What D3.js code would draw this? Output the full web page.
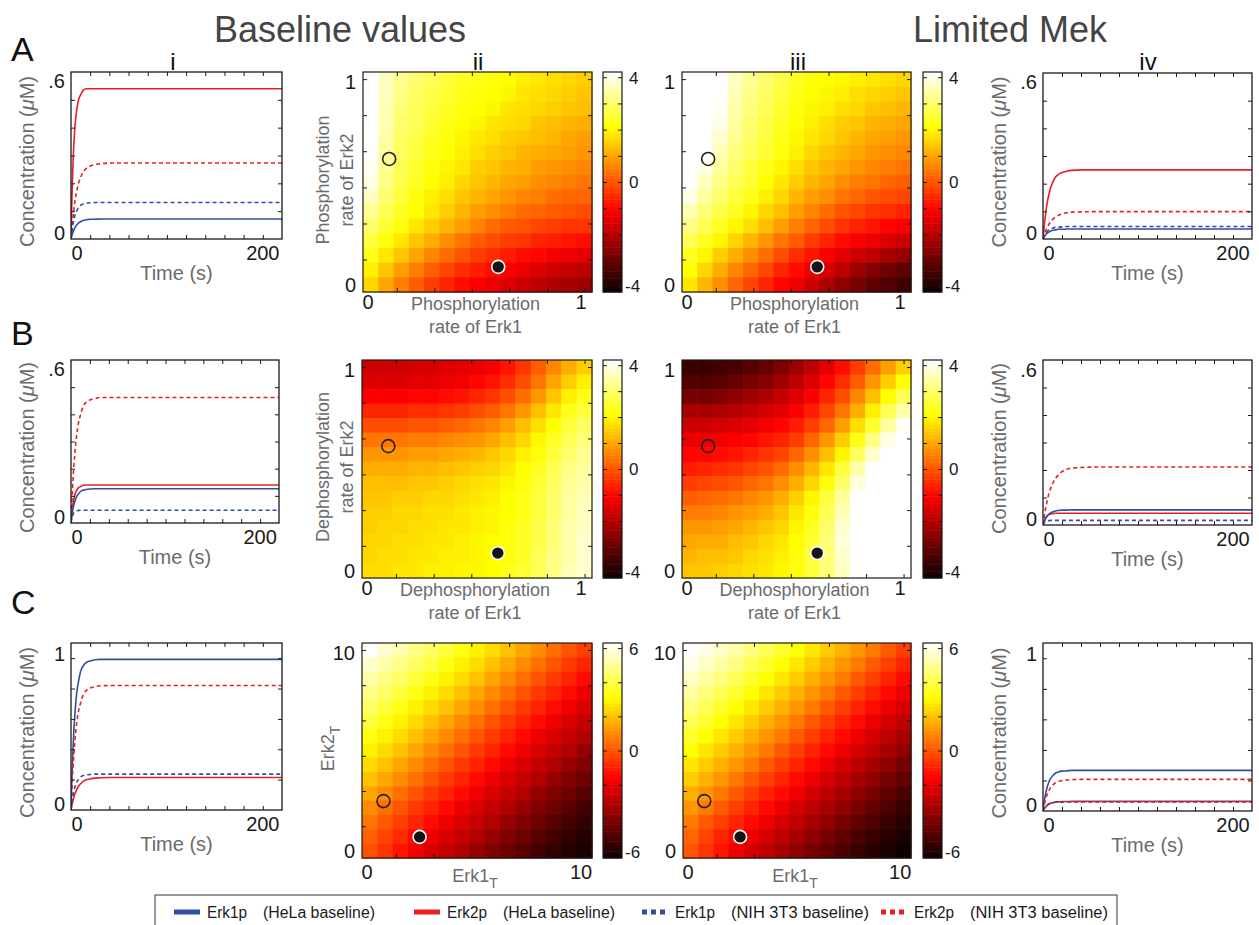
<!DOCTYPE html>
<html>
<head>
<meta charset="utf-8">
<script src="https://cdn.jsdelivr.net/npm/d3@7"></script>
<style>
  body { margin: 0; background: #fff; }
  svg { font-family: "Liberation Sans", Arial, Helvetica, sans-serif; }
</style>
</head>
<body>
<svg id="fig" width="1259" height="925"></svg>
<script>
// ---- data ----
const times = [0, 1, 2, 3, 4, 6, 8, 10, 13, 16, 20, 25, 30, 40, 60, 220];

// each panel: [Erk1p HeLa, Erk2p HeLa, Erk1p NIH 3T3, Erk2p NIH 3T3]
const lineAi = [
  [0, .013, .024, .032, .040, .050, .058, .062, .067, .069, .071, .071, .072, .072, .072, .072],
  [0, .151, .265, .340, .400, .464, .502, .518, .535, .540, .540, .540, .540, .540, .540, .540],
  [0, .029, .051, .069, .083, .102, .113, .121, .126, .128, .130, .131, .131, .131, .131, .131],
  [0, .041, .076, .106, .134, .172, .202, .221, .243, .254, .262, .268, .270, .273, .273, .273]
];
const lineAiv = [
  [0, .006, .012, .016, .020, .025, .029, .031, .033, .035, .035, .036, .036, .036, .036, .036],
  [0, .038, .070, .098, .123, .158, .185, .203, .223, .233, .240, .245, .248, .250, .250, .250],
  [0, .008, .015, .020, .025, .032, .036, .039, .042, .043, .044, .045, .045, .045, .045, .045],
  [0, .012, .022, .031, .039, .052, .062, .070, .079, .085, .091, .095, .097, .098, .099, .099]
];
const lineBi = [
  [0, .028, .049, .067, .079, .098, .108, .116, .121, .123, .125, .126, .126, .126, .126, .126],
  [0, .039, .069, .088, .104, .120, .130, .134, .139, .140, .140, .140, .140, .140, .140, .140],
  [0, .018, .030, .037, .040, .045, .046, .047, .047, .047, .047, .047, .047, .047, .047, .047],
  [0, .083, .152, .208, .254, .323, .370, .397, .430, .444, .453, .457, .462, .462, .462, .462]
];
const lineBiv = [
  [0, .010, .018, .025, .030, .039, .044, .047, .051, .053, .054, .054, .055, .055, .055, .055],
  [0, .012, .021, .027, .032, .037, .040, .041, .043, .043, .043, .043, .043, .043, .043, .043],
  [0, .007, .011, .013, .015, .016, .017, .017, .017, .017, .017, .017, .017, .017, .017, .017],
  [0, .025, .046, .065, .082, .112, .133, .150, .169, .181, .194, .203, .207, .209, .211, .211]
];
const lineCi = [
  [0, .218, .387, .526, .625, .774, .853, .913, .952, .972, .982, .990, .992, .992, .992, .992],
  [0, .032, .060, .083, .105, .135, .158, .173, .190, .199, .205, .210, .212, .214, .214, .214],
  [0, .052, .092, .125, .149, .184, .203, .217, .227, .231, .234, .236, .236, .236, .236, .236],
  [0, .148, .271, .369, .451, .574, .656, .705, .763, .787, .804, .812, .818, .820, .820, .820]
];
const lineCiv = [
  [0, .048, .088, .120, .146, .186, .213, .229, .247, .255, .261, .263, .266, .266, .266, .266],
  [0, .011, .021, .028, .035, .044, .050, .054, .059, .060, .062, .062, .063, .063, .063, .063],
  [0, .013, .023, .031, .037, .046, .051, .054, .057, .058, .058, .059, .059, .059, .059, .059],
  [0, .031, .058, .081, .101, .130, .153, .168, .184, .193, .199, .203, .205, .207, .207, .207]
];

// heat maps (log fold change), rows from top (high Erk2 value) to bottom, columns left to right
const heatAii = [
  [4.2, 3.7, 3.3, 3.0, 2.8, 2.6, 2.4, 2.3, 2.2, 2.1, 1.9, 1.8, 1.7, 1.6, 1.5],
  [4.2, 3.7, 3.2, 2.9, 2.7, 2.5, 2.3, 2.2, 2.1, 2.0, 1.8, 1.7, 1.6, 1.5, 1.4],
  [4.2, 3.6, 3.1, 2.8, 2.6, 2.4, 2.2, 2.1, 2.0, 1.8, 1.7, 1.6, 1.5, 1.4, 1.3],
  [4.2, 3.6, 3.0, 2.8, 2.5, 2.3, 2.1, 2.0, 1.8, 1.7, 1.6, 1.4, 1.3, 1.2, 1.1],
  [4.2, 3.5, 2.9, 2.7, 2.4, 2.2, 2.0, 1.8, 1.7, 1.5, 1.4, 1.3, 1.2, 1.0, 0.9],
  [4.2, 3.4, 2.9, 2.6, 2.3, 2.1, 1.9, 1.7, 1.5, 1.4, 1.2, 1.1, 1.0, 0.9, 0.8],
  [4.1, 3.3, 2.8, 2.5, 2.2, 2.0, 1.8, 1.5, 1.4, 1.2, 1.1, 0.9, 0.8, 0.7, 0.6],
  [4.0, 3.2, 2.7, 2.4, 2.1, 1.9, 1.6, 1.4, 1.2, 1.0, 0.9, 0.7, 0.6, 0.5, 0.4],
  [3.7, 3.0, 2.6, 2.2, 1.9, 1.7, 1.4, 1.2, 1.0, 0.8, 0.6, 0.5, 0.3, 0.2, 0.2],
  [3.3, 2.8, 2.4, 2.1, 1.8, 1.5, 1.2, 0.9, 0.7, 0.5, 0.3, 0.2, 0.1, 0.0, -0.1],
  [3.0, 2.5, 2.2, 1.8, 1.5, 1.2, 0.9, 0.6, 0.3, 0.1, 0.0, -0.2, -0.3, -0.4, -0.4],
  [2.6, 2.2, 1.8, 1.4, 1.1, 0.7, 0.4, 0.1, -0.1, -0.3, -0.4, -0.6, -0.7, -0.8, -0.9],
  [2.3, 1.8, 1.4, 1.0, 0.6, 0.3, 0.0, -0.3, -0.5, -0.7, -0.9, -1.0, -1.2, -1.3, -1.4],
  [1.9, 1.4, 0.9, 0.5, 0.1, -0.2, -0.5, -0.7, -0.9, -1.1, -1.3, -1.5, -1.7, -1.8, -1.9],
  [1.6, 1.0, 0.5, 0.1, -0.3, -0.6, -0.9, -1.1, -1.3, -1.5, -1.7, -1.9, -2.1, -2.2, -2.3]
];
const heatAiii = [
  [4.2, 4.2, 4.2, 3.7, 3.3, 3.0, 2.7, 2.4, 2.2, 2.1, 2.0, 1.9, 1.8, 1.7, 1.6],
  [4.2, 4.2, 4.2, 3.6, 3.2, 2.9, 2.6, 2.3, 2.1, 2.0, 1.9, 1.7, 1.6, 1.5, 1.4],
  [4.2, 4.2, 4.1, 3.5, 3.1, 2.8, 2.5, 2.2, 2.0, 1.9, 1.7, 1.6, 1.4, 1.3, 1.2],
  [4.2, 4.2, 4.0, 3.4, 3.0, 2.7, 2.4, 2.1, 1.9, 1.7, 1.5, 1.4, 1.2, 1.1, 1.0],
  [4.2, 4.2, 3.8, 3.3, 2.9, 2.6, 2.3, 2.0, 1.8, 1.6, 1.4, 1.2, 1.0, 0.9, 0.8],
  [4.2, 4.2, 3.6, 3.1, 2.8, 2.5, 2.2, 1.9, 1.6, 1.4, 1.2, 1.0, 0.8, 0.7, 0.6],
  [4.2, 4.0, 3.4, 3.0, 2.6, 2.3, 2.0, 1.7, 1.4, 1.2, 1.0, 0.8, 0.6, 0.5, 0.4],
  [4.2, 3.7, 3.2, 2.8, 2.5, 2.1, 1.8, 1.5, 1.2, 1.0, 0.7, 0.5, 0.4, 0.2, 0.1],
  [4.0, 3.4, 3.0, 2.6, 2.3, 1.9, 1.6, 1.2, 0.9, 0.7, 0.4, 0.2, 0.0, -0.1, -0.2],
  [3.6, 3.1, 2.7, 2.4, 2.0, 1.6, 1.3, 0.9, 0.6, 0.3, 0.0, -0.2, -0.4, -0.5, -0.6],
  [3.2, 2.8, 2.4, 2.0, 1.7, 1.3, 0.9, 0.5, 0.2, -0.1, -0.4, -0.6, -0.8, -1.0, -1.1],
  [2.8, 2.4, 2.0, 1.6, 1.2, 0.8, 0.4, 0.1, -0.3, -0.6, -0.9, -1.1, -1.3, -1.5, -1.7],
  [2.4, 2.0, 1.5, 1.1, 0.7, 0.3, -0.1, -0.5, -0.8, -1.1, -1.4, -1.7, -1.9, -2.2, -2.4],
  [2.1, 1.6, 1.1, 0.6, 0.2, -0.2, -0.6, -0.9, -1.3, -1.6, -1.9, -2.3, -2.6, -2.9, -3.1],
  [1.8, 1.2, 0.7, 0.2, -0.2, -0.6, -1.0, -1.3, -1.7, -2.1, -2.5, -2.8, -3.1, -3.3, -3.5]
];
const heatBii = [
  [-1.7, -1.7, -1.7, -1.6, -1.6, -1.5, -1.4, -1.3, -1.1, -0.8, -0.4, 0.1, 0.6, 1.1, 1.5],
  [-1.5, -1.5, -1.5, -1.4, -1.4, -1.3, -1.2, -1.0, -0.8, -0.5, -0.1, 0.4, 1.0, 1.5, 1.9],
  [-1.1, -1.1, -1.1, -1.0, -1.0, -0.9, -0.8, -0.6, -0.4, -0.1, 0.3, 0.8, 1.4, 1.9, 2.3],
  [-0.6, -0.6, -0.6, -0.5, -0.5, -0.4, -0.3, -0.1, 0.1, 0.4, 0.8, 1.3, 1.8, 2.3, 2.6],
  [-0.1, -0.1, -0.1, 0.0, 0.0, 0.1, 0.2, 0.4, 0.6, 0.9, 1.3, 1.7, 2.1, 2.6, 2.9],
  [0.4, 0.4, 0.4, 0.5, 0.5, 0.6, 0.7, 0.8, 1.0, 1.3, 1.6, 2.0, 2.4, 2.8, 3.1],
  [0.8, 0.8, 0.8, 0.9, 0.9, 1.0, 1.1, 1.2, 1.4, 1.6, 1.9, 2.2, 2.6, 3.0, 3.3],
  [1.1, 1.1, 1.1, 1.2, 1.2, 1.3, 1.4, 1.5, 1.6, 1.8, 2.1, 2.4, 2.8, 3.2, 3.4],
  [1.3, 1.3, 1.3, 1.4, 1.4, 1.5, 1.6, 1.7, 1.8, 2.0, 2.2, 2.5, 2.9, 3.3, 3.5],
  [1.4, 1.4, 1.5, 1.5, 1.6, 1.6, 1.7, 1.8, 1.9, 2.1, 2.3, 2.6, 3.0, 3.4, 3.6],
  [1.5, 1.5, 1.6, 1.6, 1.7, 1.7, 1.8, 1.9, 2.0, 2.1, 2.3, 2.6, 3.0, 3.4, 3.7],
  [1.5, 1.6, 1.6, 1.7, 1.7, 1.8, 1.8, 1.9, 2.0, 2.2, 2.4, 2.7, 3.1, 3.5, 3.7],
  [1.6, 1.6, 1.7, 1.7, 1.8, 1.8, 1.9, 2.0, 2.1, 2.2, 2.4, 2.7, 3.1, 3.5, 3.8],
  [1.6, 1.7, 1.7, 1.8, 1.8, 1.9, 1.9, 2.0, 2.1, 2.2, 2.4, 2.8, 3.2, 3.5, 3.8],
  [1.7, 1.7, 1.8, 1.8, 1.9, 1.9, 2.0, 2.0, 2.1, 2.3, 2.5, 2.8, 3.2, 3.6, 3.8]
];
const heatBiii = [
  [-3.6, -3.6, -3.5, -3.4, -3.2, -3.0, -2.7, -2.3, -1.9, -1.4, -0.9, -0.3, 0.3, 0.9, 1.5],
  [-3.3, -3.3, -3.2, -3.0, -2.8, -2.6, -2.3, -1.9, -1.5, -1.0, -0.5, 0.1, 0.8, 1.5, 2.1],
  [-2.8, -2.8, -2.7, -2.5, -2.3, -2.1, -1.8, -1.5, -1.1, -0.6, -0.1, 0.6, 1.3, 2.1, 2.8],
  [-2.2, -2.2, -2.1, -2.0, -1.8, -1.6, -1.4, -1.1, -0.7, -0.2, 0.4, 1.1, 1.9, 2.8, 3.5],
  [-1.7, -1.7, -1.6, -1.5, -1.4, -1.2, -1.0, -0.7, -0.3, 0.2, 0.9, 1.7, 2.5, 3.4, 4.1],
  [-1.3, -1.3, -1.2, -1.1, -1.0, -0.8, -0.6, -0.3, 0.2, 0.8, 1.5, 2.3, 3.2, 4.0, 4.2],
  [-1.0, -1.0, -0.9, -0.8, -0.6, -0.4, -0.2, 0.2, 0.7, 1.3, 2.0, 2.9, 3.8, 4.2, 4.2],
  [-0.7, -0.6, -0.5, -0.4, -0.2, 0.0, 0.3, 0.7, 1.2, 1.8, 2.6, 3.5, 4.2, 4.2, 4.2],
  [-0.3, -0.2, -0.1, 0.0, 0.2, 0.4, 0.7, 1.1, 1.6, 2.2, 3.0, 3.9, 4.2, 4.2, 4.2],
  [0.1, 0.2, 0.3, 0.4, 0.6, 0.8, 1.1, 1.5, 2.0, 2.6, 3.4, 4.2, 4.2, 4.2, 4.2],
  [0.5, 0.5, 0.6, 0.8, 0.9, 1.1, 1.4, 1.8, 2.2, 2.8, 3.6, 4.2, 4.2, 4.2, 4.2],
  [0.8, 0.8, 0.9, 1.0, 1.2, 1.4, 1.6, 2.0, 2.4, 3.0, 3.8, 4.2, 4.2, 4.2, 4.2],
  [1.0, 1.1, 1.1, 1.3, 1.4, 1.6, 1.8, 2.1, 2.5, 3.1, 3.9, 4.2, 4.2, 4.2, 4.2],
  [1.2, 1.3, 1.3, 1.4, 1.6, 1.7, 1.9, 2.2, 2.6, 3.1, 3.8, 4.2, 4.2, 4.2, 4.2],
  [1.4, 1.4, 1.5, 1.6, 1.7, 1.8, 2.0, 2.2, 2.6, 3.1, 3.7, 4.2, 4.2, 4.2, 4.2]
];
const heatCii = [
  [6.3, 5.7, 5.3, 4.8, 4.4, 3.9, 3.4, 2.9, 2.5, 2.0, 1.5, 1.0, 0.5, 0.0, -0.4],
  [5.7, 5.3, 4.8, 4.4, 3.9, 3.4, 2.9, 2.5, 2.0, 1.5, 1.0, 0.5, 0.0, -0.5, -0.9],
  [5.3, 4.8, 4.4, 3.9, 3.4, 2.9, 2.5, 2.0, 1.5, 1.0, 0.5, 0.0, -0.5, -0.9, -1.4],
  [4.8, 4.4, 3.9, 3.4, 2.9, 2.5, 2.0, 1.5, 1.0, 0.5, 0.0, -0.5, -0.9, -1.4, -1.9],
  [4.4, 3.9, 3.4, 2.9, 2.5, 2.0, 1.5, 1.0, 0.5, 0.0, -0.5, -0.9, -1.4, -1.9, -2.3],
  [3.9, 3.4, 2.9, 2.5, 2.0, 1.5, 1.0, 0.5, 0.0, -0.5, -0.9, -1.4, -1.9, -2.3, -2.7],
  [3.4, 2.9, 2.5, 2.0, 1.5, 1.0, 0.5, 0.0, -0.5, -0.9, -1.4, -1.9, -2.3, -2.7, -3.1],
  [2.9, 2.5, 2.0, 1.5, 1.0, 0.5, 0.0, -0.5, -0.9, -1.4, -1.9, -2.3, -2.7, -3.1, -3.6],
  [2.5, 2.0, 1.5, 1.0, 0.5, 0.0, -0.5, -0.9, -1.4, -1.9, -2.3, -2.7, -3.1, -3.6, -4.0],
  [2.0, 1.5, 1.0, 0.5, 0.0, -0.5, -0.9, -1.4, -1.9, -2.3, -2.7, -3.1, -3.6, -4.0, -4.4],
  [1.5, 1.0, 0.5, 0.0, -0.5, -0.9, -1.4, -1.9, -2.3, -2.7, -3.1, -3.6, -4.0, -4.4, -4.8],
  [1.0, 0.5, 0.0, -0.5, -0.9, -1.4, -1.9, -2.3, -2.7, -3.1, -3.6, -4.0, -4.4, -4.8, -5.2],
  [0.6, 0.1, -0.4, -0.9, -1.4, -1.9, -2.3, -2.7, -3.1, -3.6, -4.0, -4.4, -4.8, -5.2, -5.5],
  [0.2, -0.3, -0.8, -1.4, -1.9, -2.3, -2.7, -3.1, -3.6, -4.0, -4.4, -4.8, -5.2, -5.5, -5.8],
  [-0.1, -0.6, -1.2, -1.8, -2.3, -2.7, -3.1, -3.6, -4.0, -4.4, -4.8, -5.2, -5.5, -5.8, -6.0]
];
const heatCiii = [
  [6.3, 6.0, 5.6, 5.2, 4.7, 4.2, 3.7, 3.2, 2.7, 2.2, 1.7, 1.2, 0.7, 0.1, -0.4],
  [6.0, 5.6, 5.2, 4.7, 4.2, 3.7, 3.2, 2.7, 2.2, 1.7, 1.2, 0.7, 0.1, -0.4, -0.9],
  [5.6, 5.2, 4.7, 4.2, 3.7, 3.2, 2.7, 2.2, 1.7, 1.2, 0.7, 0.1, -0.4, -0.9, -1.4],
  [5.2, 4.7, 4.2, 3.7, 3.2, 2.7, 2.2, 1.7, 1.2, 0.7, 0.1, -0.4, -0.9, -1.4, -1.9],
  [4.7, 4.2, 3.7, 3.2, 2.7, 2.2, 1.7, 1.2, 0.7, 0.1, -0.4, -0.9, -1.4, -1.9, -2.4],
  [4.2, 3.7, 3.2, 2.7, 2.2, 1.7, 1.2, 0.7, 0.1, -0.4, -0.9, -1.4, -1.9, -2.4, -2.8],
  [3.7, 3.2, 2.7, 2.2, 1.7, 1.2, 0.7, 0.1, -0.4, -0.9, -1.4, -1.9, -2.4, -2.8, -3.3],
  [3.2, 2.7, 2.2, 1.7, 1.2, 0.7, 0.1, -0.4, -0.9, -1.4, -1.9, -2.4, -2.8, -3.3, -3.7],
  [2.7, 2.2, 1.7, 1.2, 0.7, 0.1, -0.4, -0.9, -1.4, -1.9, -2.4, -2.8, -3.3, -3.7, -4.2],
  [2.2, 1.7, 1.2, 0.7, 0.1, -0.4, -0.9, -1.4, -1.9, -2.4, -2.8, -3.3, -3.7, -4.2, -4.6],
  [1.7, 1.2, 0.7, 0.1, -0.4, -0.9, -1.4, -1.9, -2.4, -2.8, -3.3, -3.7, -4.2, -4.6, -5.0],
  [1.2, 0.7, 0.1, -0.4, -0.9, -1.4, -1.9, -2.4, -2.8, -3.3, -3.7, -4.2, -4.6, -5.0, -5.4],
  [0.7, 0.1, -0.4, -0.9, -1.4, -1.9, -2.4, -2.8, -3.3, -3.7, -4.2, -4.6, -5.0, -5.4, -5.7],
  [0.3, -0.3, -0.9, -1.4, -1.9, -2.4, -2.8, -3.3, -3.7, -4.2, -4.6, -5.0, -5.4, -5.7, -6.0],
  [0.0, -0.6, -1.2, -1.9, -2.4, -2.8, -3.3, -3.7, -4.2, -4.6, -5.0, -5.4, -5.7, -6.0, -6.2]
];

// parameter values of the two cell lines (open = NIH 3T3, filled = HeLa)
const markersAB = { open: [0.12, 0.635], filled: [0.62, 0.12] };
const markersC = { open: [0.98, 2.78], filled: [2.63, 1.03] };

const legendNames = ["Erk1p", "Erk2p", "Erk1p", "Erk2p"];
const legendNotes = ["(HeLa baseline)", "(HeLa baseline)", "(NIH 3T3 baseline)", "(NIH 3T3 baseline)"];

// ---- drawing ----
const svg = d3.select("#fig");
const BLUE = "#2f4ea2", RED = "#ec1c24", INK = "#1a1a1a", GRAY = "#6b6b6b";
const styles = [
  { color: BLUE, dash: null }, { color: RED, dash: null },
  { color: BLUE, dash: "4,3" }, { color: RED, dash: "4,3" }
];
// matlab "hot"
const hot = d3.scaleLinear()
  .domain([0, 0.375, 0.75, 1])
  .range(["#0a0000", "#ff0000", "#ffff00", "#ffffff"])
  .clamp(true);

function innerTicks(g, scale, orient, pos, values) {
  const axis = { bottom: d3.axisBottom, top: d3.axisTop, left: d3.axisLeft, right: d3.axisRight }[orient](scale)
    .tickValues(values).tickSize(-4).tickFormat("");
  const t = (orient === "bottom" || orient === "top") ? `translate(0,${pos})` : `translate(${pos},0)`;
  const a = g.append("g").attr("transform", t).call(axis);
  a.select(".domain").remove();
  a.selectAll("line").attr("stroke", INK).attr("stroke-width", 1);
}

let clipId = 0;
function linePanel(p) {
  const x = d3.scaleLinear().domain([0, 220]).range([p.left, p.right]);
  const y = d3.scaleLinear().domain([0, p.ymax]).range([p.bottom, p.top]);
  const g = svg.append("g");
  const id = "clip" + (clipId++);
  g.append("clipPath").attr("id", id).append("rect")
    .attr("x", p.left).attr("y", p.top).attr("width", p.right - p.left).attr("height", p.bottom - p.top);

  const line = d3.line().x((v, i) => x(times[i])).y(v => y(v)).curve(d3.curveMonotoneX);
  const order = [1, 0, 3, 2];
  g.append("g").attr("clip-path", `url(#${id})`).selectAll("path")
    .data(order).join("path")
    .attr("d", k => line(p.series[k]))
    .attr("fill", "none")
    .attr("stroke", k => styles[k].color)
    .attr("stroke-width", 1.6)
    .attr("stroke-dasharray", k => styles[k].dash);

  const xt = d3.range(20, 220, 20);
  const yt = d3.range(p.ystep, p.ymax - 1e-6, p.ystep);
  innerTicks(g, x, "bottom", p.bottom, xt);
  innerTicks(g, x, "top", p.top, xt);
  innerTicks(g, y, "left", p.left, yt);
  innerTicks(g, y, "right", p.right, yt);
  g.append("rect").attr("x", p.left).attr("y", p.top)
    .attr("width", p.right - p.left).attr("height", p.bottom - p.top)
    .attr("fill", "none").attr("stroke", INK).attr("stroke-width", 1.3);

  // tick labels
  g.append("text").attr("x", x(0) + 6).attr("y", p.bottom + 21).attr("text-anchor", "middle")
    .attr("font-size", 20).attr("fill", INK).text("0");
  g.append("text").attr("x", x(200)).attr("y", p.bottom + 21).attr("text-anchor", "middle")
    .attr("font-size", 20).attr("fill", INK).text("200");
  g.append("text").attr("x", p.left - 6).attr("y", p.topLabelY).attr("text-anchor", "end")
    .attr("font-size", 20).attr("fill", INK).text(p.topLabel);
  g.append("text").attr("x", p.left - 6).attr("y", p.bottom + 1).attr("text-anchor", "end")
    .attr("font-size", 20).attr("fill", INK).text("0");

  g.append("text").attr("x", (p.left + p.right) / 2).attr("y", p.bottom + 41)
    .attr("text-anchor", "middle").attr("font-size", 20).attr("fill", GRAY).text("Time (s)");
  const cy = (p.top + p.bottom) / 2 + 6;
  const yl = g.append("text").attr("transform", `translate(${p.left - 37},${cy}) rotate(-90)`)
    .attr("text-anchor", "middle").attr("font-size", 20).attr("fill", GRAY);
  yl.append("tspan").text("Concentration (");
  yl.append("tspan").attr("font-style", "italic").text("\u03bc");
  yl.append("tspan").text("M)");
}

function heatPanel(p) {
  const n = p.grid.length;
  const cell = p.extent / n;
  const x = d3.scaleLinear().domain([0, p.extent]).range([p.left, p.right]);
  const y = d3.scaleLinear().domain([0, p.extent]).range([p.bottom, p.top]);
  const color = v => hot((v - p.lo) / (p.hi - p.lo));
  const g = svg.append("g");
  const cells = p.grid.flatMap((row, r) => row.map((v, c) => ({ r, c, v })));
  g.selectAll("rect.cell").data(cells).join("rect").attr("class", "cell")
    .attr("x", d => x(d.c * cell))
    .attr("y", d => y((n - d.r) * cell))
    .attr("width", x(cell) - x(0) + 0.6)
    .attr("height", y(0) - y(cell) + 0.6)
    .attr("fill", d => color(d.v));

  innerTicks(g, x, "bottom", p.bottom, p.ticks);
  innerTicks(g, x, "top", p.top, p.ticks);
  innerTicks(g, y, "left", p.left, p.ticks);
  innerTicks(g, y, "right", p.right, p.ticks);
  g.append("rect").attr("x", p.left).attr("y", p.top)
    .attr("width", p.right - p.left).attr("height", p.bottom - p.top)
    .attr("fill", "none").attr("stroke", INK).attr("stroke-width", 1.2);

  // markers
  g.append("circle").attr("cx", x(p.markers.open[0])).attr("cy", y(p.markers.open[1])).attr("r", 6.5)
    .attr("fill", "none").attr("stroke", "#222").attr("stroke-width", 1.6);
  g.append("circle").attr("cx", x(p.markers.filled[0])).attr("cy", y(p.markers.filled[1])).attr("r", 6.5)
    .attr("fill", "#141414").attr("stroke", "#fff").attr("stroke-width", 1.6);

  // tick labels
  g.append("text").attr("x", x(0) + 5).attr("y", p.bottom + p.tickDy).attr("text-anchor", "middle")
    .attr("font-size", 20).attr("fill", INK).text("0");
  g.append("text").attr("x", x(p.maxTick)).attr("y", p.bottom + p.tickDy).attr("text-anchor", "middle")
    .attr("font-size", 20).attr("fill", INK).text(p.maxLabel);
  g.append("text").attr("x", p.left - 7).attr("y", y(p.maxTick) + 7).attr("text-anchor", "end")
    .attr("font-size", 20).attr("fill", INK).text(p.maxLabel);
  g.append("text").attr("x", p.left - 7).attr("y", p.bottom).attr("text-anchor", "end")
    .attr("font-size", 20).attr("fill", INK).text("0");

  // colorbar
  const cb = d3.scaleLinear().domain([p.lo, p.hi]).range([p.bottom, p.top]);
  const steps = d3.range(64);
  const sh = (p.bottom - p.top) / 64;
  g.selectAll("rect.cb").data(steps).join("rect").attr("class", "cb")
    .attr("x", p.cbLeft).attr("width", 19)
    .attr("y", i => cb(p.lo + (i + 1) * (p.hi - p.lo) / 64))
    .attr("height", sh + 0.5)
    .attr("fill", i => hot((i + 0.5) / 64));
  innerTicks(g, cb, "left", p.cbLeft, p.cbTicks);
  innerTicks(g, cb, "right", p.cbLeft + 19, p.cbTicks);
  g.append("rect").attr("x", p.cbLeft).attr("y", p.top).attr("width", 19).attr("height", p.bottom - p.top)
    .attr("fill", "none").attr("stroke", INK).attr("stroke-width", 1.2);
  const lx = p.cbLeft + 26;
  g.append("text").attr("x", lx).attr("y", p.top + 12).attr("font-size", 17).attr("fill", INK).text(p.cbMax);
  g.append("text").attr("x", lx).attr("y", cb(0) + 6).attr("font-size", 17).attr("fill", INK).text("0");
  g.append("text").attr("x", lx - 4).attr("y", p.bottom).attr("font-size", 17).attr("fill", INK).text("-" + p.cbMax);

  // axis titles
  const mid = (p.left + p.right) / 2;
  p.xTitle.forEach((t, i) => {
    const tx = g.append("text").attr("x", mid - 2).attr("y", p.bottom + p.titleDy + i * 23)
      .attr("text-anchor", "middle").attr("font-size", 18).attr("fill", GRAY);
    tx.append("tspan").text(t[0]);
    if (t[1]) tx.append("tspan").attr("dy", 6).attr("font-size", 14).text(t[1]);
  });
  if (p.yTitle) {
    const cy = (p.top + p.bottom) / 2 - 2;
    p.yTitle.forEach((t, i) => {
      const ty = g.append("text").attr("transform", `translate(${p.yTitleX[i]},${cy}) rotate(-90)`)
        .attr("text-anchor", "middle").attr("font-size", 18).attr("fill", GRAY);
      ty.append("tspan").text(t[0]);
      if (t[1]) ty.append("tspan").attr("dy", 6).attr("font-size", 14).text(t[1]);
    });
  }
}

const tickAB = [0.155, 0.327, 0.499, 0.672, 0.844, 1.016];
const tickC = [1.55, 3.27, 4.99, 6.72, 8.44, 10.16];

// row A
linePanel({ left: 71, right: 282, top: 72, bottom: 239, ymax: 0.6, ystep: 0.1, topLabel: ".6", topLabelY: 88, series: lineAi });
linePanel({ left: 1043, right: 1252, top: 73, bottom: 239, ymax: 0.6, ystep: 0.1, topLabel: ".6", topLabelY: 89, series: lineAiv });
heatPanel({ left: 363, right: 592, top: 72, bottom: 292, cbLeft: 603, extent: 1.05, lo: -4.2, hi: 4.2, cbMax: "4",
  cbTicks: d3.range(-4, 5, 1), grid: heatAii, ticks: tickAB, maxTick: 1, maxLabel: "1", markers: markersAB,
  tickDy: 17, titleDy: 18,
  xTitle: [["Phosphorylation"], ["rate of Erk1"]], yTitle: [["Phosphorylation"], ["rate of Erk2"]], yTitleX: [329, 353] });
heatPanel({ left: 682, right: 911, top: 72, bottom: 292, cbLeft: 923, extent: 1.05, lo: -4.2, hi: 4.2, cbMax: "4",
  cbTicks: d3.range(-4, 5, 1), grid: heatAiii, ticks: tickAB, maxTick: 1, maxLabel: "1", markers: markersAB,
  tickDy: 17, titleDy: 18,
  xTitle: [["Phosphorylation"], ["rate of Erk1"]] });

// row B
linePanel({ left: 71, right: 279, top: 360, bottom: 523, ymax: 0.6, ystep: 0.1, topLabel: ".6", topLabelY: 376, series: lineBi });
linePanel({ left: 1043, right: 1252, top: 360, bottom: 525, ymax: 0.6, ystep: 0.1, topLabel: ".6", topLabelY: 377, series: lineBiv });
heatPanel({ left: 362, right: 592, top: 360, bottom: 578, cbLeft: 603, extent: 1.05, lo: -4.2, hi: 4.2, cbMax: "4",
  cbTicks: d3.range(-4, 5, 1), grid: heatBii, ticks: tickAB, maxTick: 1, maxLabel: "1", markers: markersAB,
  tickDy: 17, titleDy: 18,
  xTitle: [["Dephosphorylation"], ["rate of Erk1"]], yTitle: [["Dephosphorylation"], ["rate of Erk2"]], yTitleX: [329, 353] });
heatPanel({ left: 682, right: 911, top: 360, bottom: 578, cbLeft: 923, extent: 1.05, lo: -4.2, hi: 4.2, cbMax: "4",
  cbTicks: d3.range(-4, 5, 1), grid: heatBiii, ticks: tickAB, maxTick: 1, maxLabel: "1", markers: markersAB,
  tickDy: 17, titleDy: 18,
  xTitle: [["Dephosphorylation"], ["rate of Erk1"]] });

// row C
linePanel({ left: 71, right: 282, top: 643, bottom: 810, ymax: 1.1, ystep: 0.2, topLabel: "1", topLabelY: 661, series: lineCi });
linePanel({ left: 1043, right: 1252, top: 643, bottom: 811, ymax: 1.1, ystep: 0.2, topLabel: "1", topLabelY: 661, series: lineCiv });
heatPanel({ left: 362, right: 592, top: 643, bottom: 858, cbLeft: 603, extent: 10.5, lo: -6.3, hi: 6.3, cbMax: "6",
  cbTicks: d3.range(-6, 7, 2), grid: heatCii, ticks: tickC, maxTick: 10, maxLabel: "10", markers: markersC,
  tickDy: 21, titleDy: 24,
  xTitle: [["Erk1", "T"]], yTitle: [["Erk2", "T"]], yTitleX: [334] });
heatPanel({ left: 683, right: 911, top: 643, bottom: 858, cbLeft: 923, extent: 10.5, lo: -6.3, hi: 6.3, cbMax: "6",
  cbTicks: d3.range(-6, 7, 2), grid: heatCiii, ticks: tickC, maxTick: 10, maxLabel: "10", markers: markersC,
  tickDy: 21, titleDy: 24,
  xTitle: [["Erk1", "T"]] });

// titles and panel letters
svg.append("text").attr("x", 340).attr("y", 42).attr("text-anchor", "middle")
  .attr("font-size", 36).attr("fill", "#444").text("Baseline values");
svg.append("text").attr("x", 1010).attr("y", 42).attr("text-anchor", "middle")
  .attr("font-size", 36).attr("fill", "#444").text("Limited Mek");
[["A", 61], ["B", 345], ["C", 614]].forEach(([t, yy]) =>
  svg.append("text").attr("x", 11).attr("y", yy).attr("font-size", 34).attr("fill", "#111").text(t));
[["i", 173], ["ii", 478], ["iii", 798], ["iv", 1148]].forEach(([t, xx]) =>
  svg.append("text").attr("x", xx).attr("y", 70).attr("text-anchor", "middle")
    .attr("font-size", 24).attr("fill", "#111").text(t));

// legend
const lg = svg.append("g");
lg.append("rect").attr("x", 155).attr("y", 895).attr("width", 962).attr("height", 50)
  .attr("fill", "#fff").attr("stroke", "#333").attr("stroke-width", 1);
const legendX = [174, 414, 642, 881];
legendNames.forEach((name, i) => {
  const x0 = legendX[i];
  lg.append("line").attr("x1", x0).attr("x2", x0 + 26).attr("y1", 912).attr("y2", 912)
    .attr("stroke", styles[i].color).attr("stroke-width", 5)
    .attr("stroke-dasharray", styles[i].dash ? "5,4" : null);
  lg.append("text").attr("x", x0 + 33).attr("y", 918).attr("font-size", 16).attr("fill", INK)
    .attr("textLength", 40).attr("lengthAdjust", "spacingAndGlyphs").text(name);
  lg.append("text").attr("x", x0 + 89).attr("y", 918).attr("font-size", 16).attr("fill", INK)
    .attr("textLength", i < 2 ? 112 : 138).attr("lengthAdjust", "spacingAndGlyphs").text(legendNotes[i]);
});
</script>
</body>
</html>
